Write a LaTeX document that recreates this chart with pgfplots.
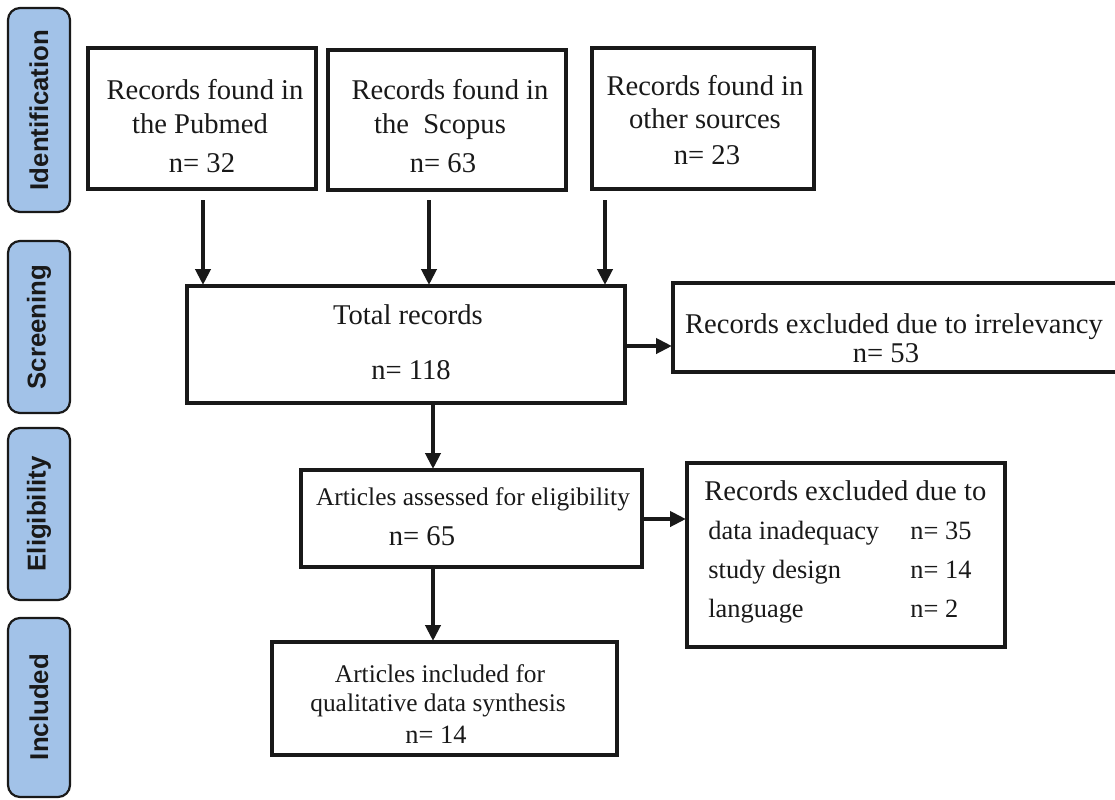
\documentclass[border=0pt]{standalone}
\usepackage{pgfplots}
\pgfplotsset{compat=1.18}
\usetikzlibrary{arrows.meta}
\usepackage{fontspec}
\setmainfont{Liberation Serif}
\newfontfamily\sidefont{Liberation Sans}
\definecolor{sidefill}{RGB}{162,194,232}
\definecolor{ink}{RGB}{25,25,25}
\newcommand\bigt{\fontsize{14.3}{18}\selectfont}
\newcommand\midt{\fontsize{13.2}{16}\selectfont}
\newcommand\smt{\fontsize{12.7}{16}\selectfont}
\begin{document}
\begin{tikzpicture}
\begin{axis}[name=A, scale only axis, width=557.5pt, height=399.5pt,
  xmin=0, xmax=1115, ymin=0, ymax=799, y dir=reverse, hide axis, clip=false,
  bx/.style={draw=ink, solid, line width=1.8pt, mark=none, line join=miter},
  side/.style={draw=ink, fill=sidefill, solid, line width=1.1pt, mark=none, rounded corners=6pt},
  arr/.style={draw=ink, fill=ink, solid, mark=none, -{Triangle[length=8pt,width=7.5pt]}, line width=2pt}]
% stage labels
\addplot[side] coordinates {(8,8)(70,8)(70,212)(8,212)} -- cycle;
\addplot[side] coordinates {(8,241)(70,241)(70,413)(8,413)} -- cycle;
\addplot[side] coordinates {(8,428)(70,428)(70,600)(8,600)} -- cycle;
\addplot[side] coordinates {(8,618)(70,618)(70,797)(8,797)} -- cycle;
\node[rotate=90, text=ink, font=\sidefont\bfseries\fontsize{12.9}{15}\selectfont] at (axis cs:39,110) {Identification};
\node[rotate=90, text=ink, font=\sidefont\bfseries\fontsize{12.9}{15}\selectfont] at (axis cs:39,327) {Screening};
\node[rotate=90, text=ink, font=\sidefont\bfseries\fontsize{12.9}{15}\selectfont] at (axis cs:39,514) {Eligibility};
\node[rotate=90, text=ink, font=\sidefont\bfseries\fontsize{12.9}{15}\selectfont] at (axis cs:39,707) {Included};
% boxes
\addplot[bx] coordinates {(88,48)(316,48)(316,189)(88,189)} -- cycle;
\addplot[bx] coordinates {(328,50)(566,50)(566,190)(328,190)} -- cycle;
\addplot[bx] coordinates {(592,48)(814,48)(814,189)(592,189)} -- cycle;
\addplot[bx] coordinates {(187,286)(625,286)(625,403)(187,403)} -- cycle;
\addplot[bx] coordinates {(1115,283)(673,283)(673,372)(1115,372)};
\addplot[bx] coordinates {(301,470)(642,470)(642,567)(301,567)} -- cycle;
\addplot[bx] coordinates {(687,463)(1005,463)(1005,647)(687,647)} -- cycle;
\addplot[bx] coordinates {(272,642)(617,642)(617,755)(272,755)} -- cycle;
% arrows
\addplot[arr] coordinates {(203,200)(203,285)};
\addplot[arr] coordinates {(429,200)(429,285)};
\addplot[arr] coordinates {(605,200)(605,285)};
\addplot[arr] coordinates {(626,346)(672,346)};
\addplot[arr] coordinates {(433,404)(433,469)};
\addplot[arr] coordinates {(643,519)(686,519)};
\addplot[arr] coordinates {(433,568)(433,641)};
% texts
\begin{scope}[every node/.style={anchor=base, text=ink, inner sep=0pt}]
\node[font=\bigt] at (axis cs:205,99) {Records found in};
\node[font=\bigt] at (axis cs:200,133) {the Pubmed};
\node[font=\bigt] at (axis cs:202,172) {n= 32};
\node[font=\bigt] at (axis cs:450,99) {Records found in};
\node[font=\bigt] at (axis cs:440,133) {the\ \ Scopus};
\node[font=\bigt] at (axis cs:443,172) {n= 63};
\node[font=\bigt] at (axis cs:705,95) {Records found in};
\node[font=\bigt] at (axis cs:705,128) {other sources};
\node[font=\bigt] at (axis cs:707,164) {n= 23};
\node[font=\bigt] at (axis cs:408,324) {Total records};
\node[font=\bigt] at (axis cs:411,379) {n= 118};
\node[font=\bigt] at (axis cs:894,333) {Records excluded due to irrelevancy};
\node[font=\bigt] at (axis cs:886,362) {n= 53};
\node[font=\smt] at (axis cs:473,505) {Articles assessed for eligibility};
\node[font=\bigt] at (axis cs:422,545) {n= 65};
\node[font=\bigt, anchor=base west] at (axis cs:704,500) {Records excluded due to};
\node[font=\midt, anchor=base west] at (axis cs:708,539) {data inadequacy};
\node[font=\midt, anchor=base west] at (axis cs:708,578) {study design};
\node[font=\midt, anchor=base west] at (axis cs:708,617) {language};
\node[font=\midt, anchor=base west] at (axis cs:910,539) {n= 35};
\node[font=\midt, anchor=base west] at (axis cs:910,578) {n= 14};
\node[font=\midt, anchor=base west] at (axis cs:910,617) {n= 2};
\node[font=\smt] at (axis cs:440,682) {Articles included for};
\node[font=\smt] at (axis cs:438,711) {qualitative data synthesis};
\node[font=\midt] at (axis cs:436,743) {n= 14};
\end{scope}
\end{axis}
\pgfresetboundingbox
\path (A.south west) rectangle (A.north east);
\end{tikzpicture}
\end{document}
